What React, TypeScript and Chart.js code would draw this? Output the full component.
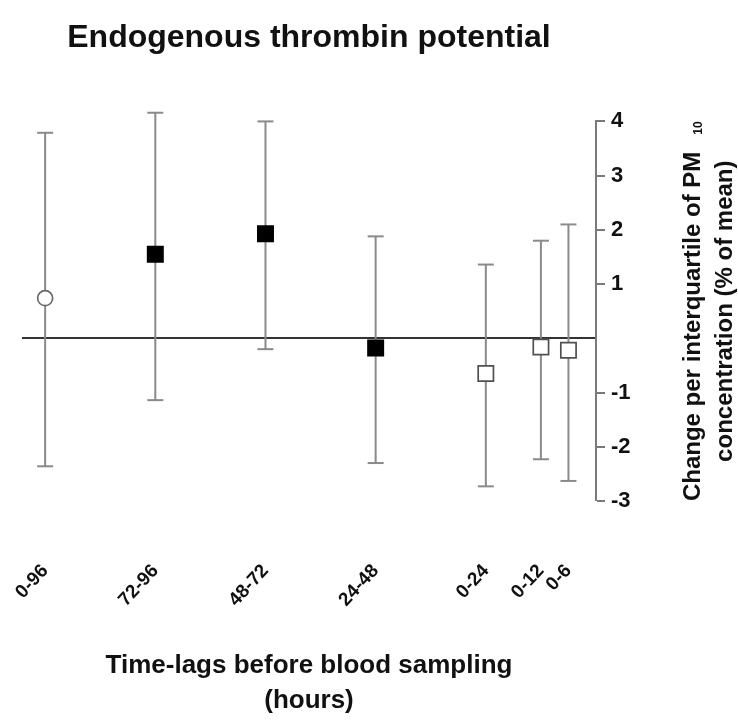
import React, { useEffect, useRef } from 'react';
import { Chart, registerables } from 'chart.js';

Chart.register(...registerables);

// ---- data ----
const chartTitle = 'Endogenous thrombin potential';
const xLabels = ['0-96', '72-96', '48-72', '24-48', '0-24', '0-12', '0-6'];
const xPositions = [0, 1, 2, 3, 4, 4.5, 4.75];
const estimates = [0.74, 1.55, 1.93, -0.18, -0.65, -0.16, -0.22];
const lowerCI = [-2.36, -1.14, -0.2, -2.3, -2.73, -2.23, -2.63];
const upperCI = [3.79, 4.16, 4.0, 1.88, 1.36, 1.8, 2.1];
const markerKind = ['open-circle', 'filled-square', 'filled-square', 'filled-square', 'open-square', 'open-square', 'open-square'];
const yTickValues = [-3, -2, -1, 0, 1, 2, 3, 4];
const xTitle = ['Time-lags before blood sampling', '(hours)'];
const yTitleLine1 = 'Change per interquartile of PM';
const yTitleSub = '10';
const yTitleLine2 = 'concentration (% of mean)';

const FONT = '"Liberation Sans", Arial, Helvetica, sans-serif';
const BAR_COLOR = '#8a8a8a';

const yTitlePlugin = {
  id: 'yTitleRotated',
  afterDraw(chart: any) {
    const { ctx, chartArea } = chart;
    const cy = (chartArea.top + chartArea.bottom) / 2;
    const mainFont = `bold 24px ${FONT}`;
    const subFont = `bold 12px ${FONT}`;
    ctx.save();
    ctx.fillStyle = '#111';
    ctx.textBaseline = 'alphabetic';
    ctx.textAlign = 'left';
    ctx.font = mainFont;
    const w1 = ctx.measureText(yTitleLine1).width;
    ctx.font = subFont;
    const ws = ctx.measureText(yTitleSub).width;
    const gap = 17;
    const total = w1 + gap + ws;
    ctx.translate(chartArea.right + 104, cy);
    ctx.rotate(-Math.PI / 2);
    ctx.font = mainFont;
    ctx.fillText(yTitleLine1, -total / 2, 0);
    ctx.font = subFont;
    ctx.fillText(yTitleSub, -total / 2 + w1 + gap, 2);
    ctx.restore();

    ctx.save();
    ctx.fillStyle = '#111';
    ctx.textBaseline = 'alphabetic';
    ctx.textAlign = 'center';
    ctx.font = mainFont;
    ctx.translate(chartArea.right + 136, cy);
    ctx.rotate(-Math.PI / 2);
    ctx.fillText(yTitleLine2, 0, 0);
    ctx.restore();
  },
};

export default function App() {
  const canvasRef = useRef<HTMLCanvasElement | null>(null);

  useEffect(() => {
    if (!canvasRef.current) return;

    const errorData: any[] = [];
    xPositions.forEach((x, i) => {
      errorData.push({ x, y: lowerCI[i] });
      errorData.push({ x, y: upperCI[i] });
      errorData.push({ x, y: null });
    });
    const pointData = xPositions.map((x, i) => ({ x, y: estimates[i] }));

    const chart = new Chart(canvasRef.current, {
      type: 'scatter',
      data: {
        datasets: [
          {
            label: 'estimate',
            data: pointData,
            xAxisID: 'x',
            yAxisID: 'y',
            order: 0,
            showLine: false,
            clip: false as any,
            pointStyle: markerKind.map((k) => (k === 'open-circle' ? 'circle' : 'rect')) as any,
            pointRadius: markerKind.map((k) => (k === 'open-circle' ? 7.5 : 10.8)),
            pointHoverRadius: markerKind.map((k) => (k === 'open-circle' ? 7.5 : 10.8)),
            pointBackgroundColor: markerKind.map((k) => (k === 'filled-square' ? '#000' : '#fff')),
            pointBorderColor: markerKind.map((k) => (k === 'open-circle' ? '#6a6a6a' : k === 'open-square' ? '#505050' : '#000')),
            pointBorderWidth: 1.7,
          },
          {
            label: 'ci',
            data: errorData,
            xAxisID: 'x',
            yAxisID: 'y',
            order: 1,
            showLine: true,
            spanGaps: false,
            clip: false as any,
            borderColor: BAR_COLOR,
            borderWidth: 2,
            pointStyle: 'line',
            pointRadius: 8,
            pointHoverRadius: 8,
            pointBorderColor: BAR_COLOR,
            pointBorderWidth: 2,
          },
        ],
      },
      options: {
        animation: false,
        responsive: true,
        maintainAspectRatio: false,
        events: [],
        layout: { padding: { left: 22, right: 0, top: 0, bottom: 0 } },
        plugins: {
          legend: { display: false },
          tooltip: { enabled: false },
          title: {
            display: true,
            text: chartTitle,
            fullSize: false,
            color: '#111',
            font: { family: FONT, size: 32, weight: 'bold' },
            padding: { top: 19, bottom: 64 },
          },
        },
        scales: {
          x: {
            type: 'linear',
            position: 'bottom',
            weight: 10,
            min: -0.21,
            max: 5,
            afterBuildTicks: (s: any) => {
              s.ticks = xPositions.map((v) => ({ value: v }));
            },
            afterFit: (s: any) => {
              s.height = 161;
            },
            grid: { display: false, drawTicks: false },
            border: { display: false },
            ticks: {
              autoSkip: false,
              minRotation: 47,
              maxRotation: 47,
              padding: 1,
              color: '#111',
              font: { family: FONT, size: 19, weight: 'bold' },
              callback: (_v: any, i: number) => xLabels[i],
            },
            title: {
              display: true,
              text: xTitle,
              color: '#111',
              font: { family: FONT, size: 26, weight: 'bold', lineHeight: 1.35 },
              padding: { top: 0, bottom: 2 },
            },
          },
          xs: {
            type: 'linear',
            axis: 'x',
            position: 'bottom',
            weight: 1,
            display: true,
            grid: { display: false, drawTicks: false },
            border: { display: false },
            ticks: { display: false },
            afterFit: (s: any) => {
              s.height = 58;
            },
          },
          y: {
            type: 'linear',
            position: 'right',
            min: -3,
            max: 4,
            afterBuildTicks: (s: any) => {
              s.ticks = yTickValues.map((v) => ({ value: v }));
            },
            afterFit: (s: any) => {
              s.width = 142;
            },
            border: { display: true, color: '#7a7a7a', width: 2 },
            grid: {
              drawOnChartArea: true,
              drawTicks: true,
              tickLength: 9,
              color: (c: any) => (c.tick && c.tick.value === 0 ? '#333' : 'rgba(0,0,0,0)'),
              lineWidth: (c: any) => (c.tick && c.tick.value === 0 ? 2 : 0),
              tickColor: (c: any) => (c.tick && c.tick.value === 0 ? 'rgba(0,0,0,0)' : '#7a7a7a'),
              tickWidth: 2,
            },
            ticks: {
              padding: 6,
              color: '#111',
              font: { family: FONT, size: 22, weight: 'bold' },
              callback: (v: any) => (v === 0 ? '' : String(v)),
            },
          },
        },
      } as any,
      plugins: [yTitlePlugin],
    });

    return () => chart.destroy();
  }, []);

  return (
    <div style={{ position: 'absolute', left: 0, top: 0, width: 738, height: 720, background: '#fff' }}>
      <canvas ref={canvasRef} />
    </div>
  );
}
